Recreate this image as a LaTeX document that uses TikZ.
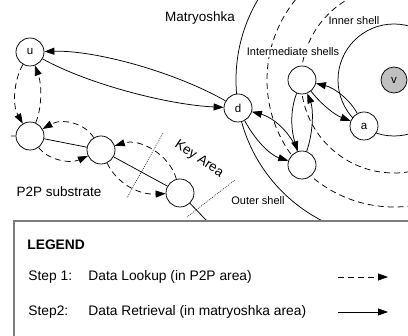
\documentclass[tikz,border=0pt]{standalone}
\usepackage{fontspec}
\setmainfont{Liberation Sans}
\usetikzlibrary{arrows.meta}
\definecolor{vgray}{RGB}{192,192,192}
\definecolor{lgray}{RGB}{125,125,125}
\begin{document}
\begin{tikzpicture}[x=1pt,y=-1pt, line width=0.75pt,
  nd/.style={circle,draw,fill=white,minimum size=28pt,inner sep=0pt,font=\fontsize{11.5}{12}\selectfont},
  dsh/.style={dash pattern=on 6pt off 4pt},
  arr/.style={-{Triangle[length=10pt,width=7pt]}},
  shelllabel/.style={font=\fontsize{11}{12}\selectfont, inner sep=1pt},
  big/.style={font=\fontsize{13.5}{15}\selectfont, inner sep=0pt},
  lg/.style={font=\fontsize{13.8}{16}\selectfont, inner sep=0pt, anchor=west},
  dotl/.style={line width=0.6pt, dash pattern=on 0.8pt off 1.2pt},
  legline/.style={draw=lgray, line width=1.5pt}]
\useasboundingbox (0,0) rectangle (408,336);

% shells
\begin{scope}
\clip (0,0) rectangle (408,221);
\draw (394,80) circle[radius=158];
\draw[dsh] (394,80) circle[radius=127];
\draw[dsh] (394,80) circle[radius=93];
\draw (394,80) circle[radius=56];
\end{scope}

% key area boundaries
\coordinate (k1a) at (163,133); \coordinate (k1b) at (127,198);
\coordinate (k2a) at (235,180); \coordinate (k2b) at (187,217);
\draw[dotl] (k1a) -- (k1b);
\draw[dotl] (k2a) -- (k2b);

% nodes
\node[nd] (u) at (30,52) {u};
\node[nd] (n1) at (30,136) {};
\node[nd] (n2) at (101,150) {};
\node[nd] (n3) at (180,193) {};
\node[nd] (d) at (238,108) {d};
\node[nd] (m1) at (302,80) {};
\node[nd] (m2) at (302,165) {};
\node[nd] (a) at (364,126) {a};
\node[nd, fill=vgray, minimum size=26pt] (v) at (394,80) {v};

% P2P ring
\coordinate (r0) at (11,136);
\coordinate (r1) at (207,221);
\draw (r0) -- (n1) -- (n2) -- (n3) -- (r1);

% step 2 : u <-> d
\draw[arr] (d) .. controls (175,72) and (95,50) .. (u);
\draw[arr] (u) .. controls (90,85) and (170,105) .. (d);

% step 1 : lookup in P2P
\draw[dsh,arr] (u) .. controls (14,80) and (12,105) .. (n1);
\draw[dsh,arr] (n1) .. controls (42,108) and (42,85) .. (u);
\draw[dsh,arr] (n2) .. controls (85,123) and (62,118) .. (n1);
\draw[dsh,arr] (n1) .. controls (48,160) and (70,164) .. (n2);
\draw[dsh,arr] (n3) .. controls (170,155) and (140,138) .. (n2);
\draw[dsh,arr] (n2) .. controls (115,180) and (135,195) .. (n3);

% matryoshka retrieval
\draw[arr] (d) .. controls (255,140) and (270,155) .. (m2);
\draw[arr] (m2) .. controls (292,135) and (275,118) .. (d);
\draw[arr] (m1) .. controls (290,110) and (291,130) .. (m2);
\draw[arr] (m2) .. controls (314,130) and (313,108) .. (m1);
\draw[arr] (m1) .. controls (322,105) and (335,115) .. (a);
\draw[arr] (a) .. controls (350,100) and (335,88) .. (m1);

% labels
\node[big] (mat) at (200,18) {Matryoshka};
\node[shelllabel, fill=white] (ish) at (293,52) {Intermediate shells};
\node[shelllabel] (inn) at (354,21) {Inner shell};
\node[shelllabel] (out) at (258,201) {Outer shell};
\node[big] (p2p) at (59,192) {P2P substrate};
\node[big, rotate=-34] (key) at (199,159) {Key Area};

% legend
\fill[white] (14,221) rectangle (408,336);
\draw[legline] (408,221) -- (14,221) -- (14,336);
\node[lg, font=\fontsize{13.8}{16}\selectfont\bfseries] (lgd) at (27,245) {LEGEND};
\node[lg] (s1) at (28,277) {Step 1:};
\node[lg] (t1) at (88,277) {Data Lookup (in P2P area)};
\node[lg] (s2) at (28,312) {Step2:};
\node[lg] (t2) at (88,312) {Data Retrieval (in matryoshka area)};
\coordinate (l1a) at (338,277); \coordinate (l1b) at (388,277);
\coordinate (l2a) at (338,312); \coordinate (l2b) at (388,312);
\draw[dsh,arr] (l1a) -- (l1b);
\draw[arr] (l2a) -- (l2b);
\end{tikzpicture}
\end{document}
